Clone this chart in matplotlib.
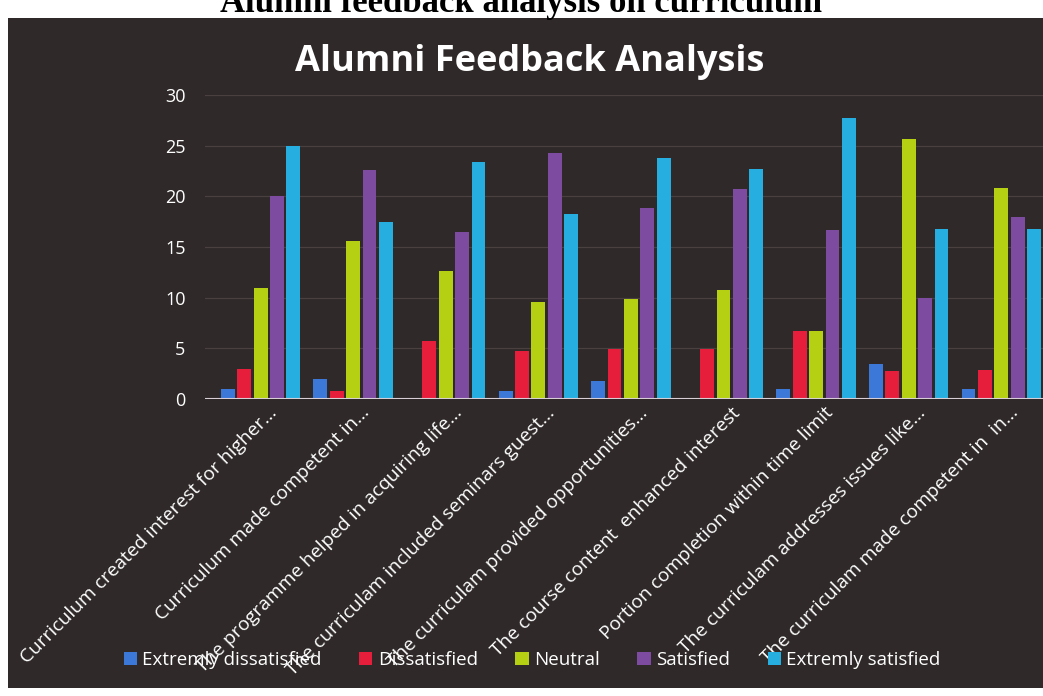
import matplotlib.pyplot as plt
from matplotlib.patches import Rectangle
import numpy as np

plt.rcParams['font.family'] = ['Open Sans', 'DejaVu Sans']

questions = [
    "Curriculum created interest for higher...",
    "Curriculum made competent in...",
    "The programme helped in acquiring life...",
    "The curriculam included seminars guest...",
    "The curriculam provided opportunities...",
    "The course content  enhanced interest",
    "Portion completion within time limit",
    "The curriculam addresses issues like...",
    "The curriculam made competent in  in...",
]
series = ["Extremly dissatisfied", "Dissatisfied", "Neutral", "Satisfied", "Extremly satisfied"]
extremly_dissatisfied = [1, 2, 0, 0.8, 1.8, 0, 1, 3.5, 1]
dissatisfied = [3, 0.8, 5.7, 4.7, 4.9, 4.9, 6.7, 2.8, 2.9]
neutral = [11, 15.6, 12.6, 9.6, 9.9, 10.8, 6.7, 25.7, 20.8]
satisfied = [20, 22.6, 16.5, 24.3, 18.8, 20.7, 16.7, 10, 18]
extremly_satisfied = [25, 17.5, 23.4, 18.3, 23.8, 22.7, 27.7, 16.8, 16.8]
values = [extremly_dissatisfied, dissatisfied, neutral, satisfied, extremly_satisfied]
colors = ['#3b78d8', '#e61e3c', '#b5cf12', '#7d4ba0', '#27aee0']

bg = '#2f2929'
W, H = 1043, 696
fig = plt.figure(figsize=(W / 100, H / 100), dpi=100, facecolor='white')
fig.add_artist(Rectangle((8 / W, 8 / H), 1, 1 - 26 / H, transform=fig.transFigure,
                         facecolor=bg, edgecolor='none', zorder=0))

# heading of the page, cut off at the top of the photo
fig.text(0.5, 1 - 12 / H, "Alumni feedback analysis on curriculum", ha='center', va='baseline',
         family='Liberation Serif', fontweight='bold', fontsize=25, color='black')

ax = fig.add_axes([205 / W, 1 - 399 / H, 1 - 205 / W, (399 - 95) / H])
ax.set_facecolor('none')

x = np.arange(len(questions))
stride = 0.177
width = 0.15
for i, (name, vals, c) in enumerate(zip(series, values, colors)):
    ax.bar(x + (i - 2) * stride, vals, width, color=c, label=name, zorder=3)

ax.set_xlim(-0.6, 8.45)
ax.set_ylim(0, 30)
ax.set_yticks(range(0, 31, 5))
ax.yaxis.grid(True, color='#4a4040', linewidth=0.9, zorder=0)
ax.axhline(0, color='#d8cfd6', linewidth=1.5, zorder=4)
for s in ax.spines.values():
    s.set_visible(False)
ax.tick_params(axis='y', colors='white', labelsize=13, length=0, pad=14)
ax.tick_params(axis='x', length=0, pad=8)
ax.set_xticks(x + 0.15)
ax.set_xticklabels(questions, rotation=45, ha='right', va='center', rotation_mode='anchor',
                   color='white', fontsize=13.8)

fig.text(530 / W, 1 - 62 / H, "Alumni Feedback Analysis", ha='center', va='center',
         color='white', fontsize=26, fontweight='bold')

fig.legend(loc='center', bbox_to_anchor=(532 / W, 1 - 660 / H), ncol=5, frameon=False,
           labelcolor='white', fontsize=13.5, handlelength=0.7, handleheight=0.7,
           handletextpad=0.3, columnspacing=2.0)

fig.savefig('out.png', dpi=100, facecolor=fig.get_facecolor())
